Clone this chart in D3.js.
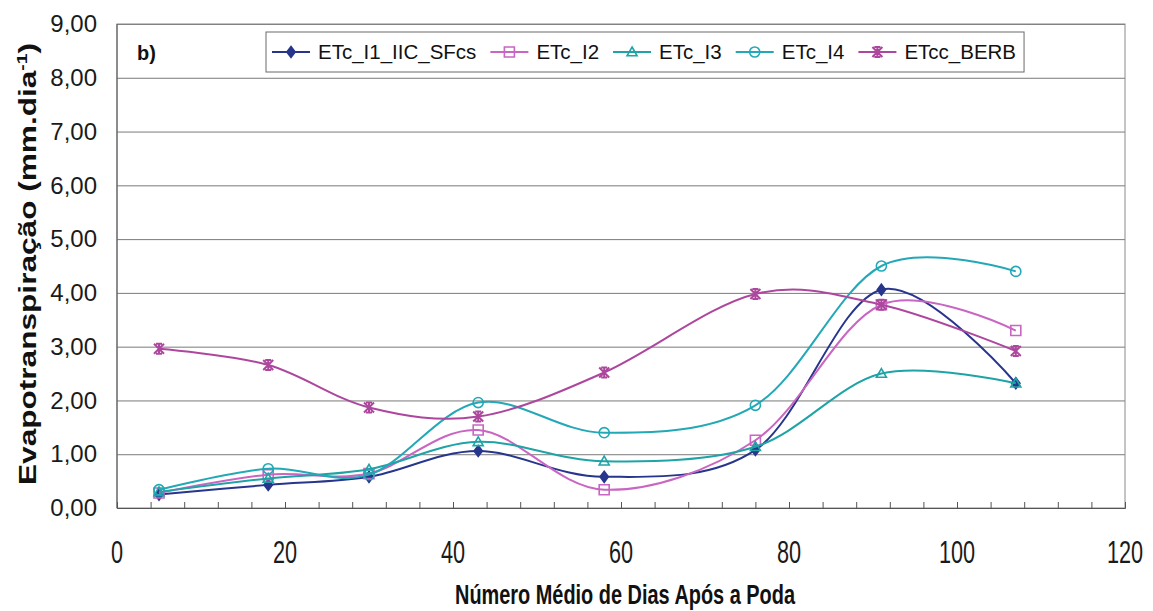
<!DOCTYPE html>
<html>
<head>
<meta charset="utf-8">
<script src="https://cdn.jsdelivr.net/npm/d3@7"></script>
<style>
  body { margin: 0; background: #fff; }
  svg { display: block; }
</style>
</head>
<body>
<div id="chart"></div>
<script>
// Data
const days = [5, 18, 30, 43, 58, 76, 91, 107];
const etcI1 = [0.25, 0.43, 0.58, 1.06, 0.58, 1.08, 4.06, 2.32];
const etcI2 = [0.28, 0.62, 0.64, 1.45, 0.34, 1.26, 3.78, 3.30];
const etcI3 = [0.30, 0.55, 0.72, 1.23, 0.87, 1.14, 2.50, 2.32];
const etcI4 = [0.34, 0.73, 0.62, 1.96, 1.40, 1.91, 4.50, 4.40];
const etccBerb = [2.96, 2.66, 1.87, 1.70, 2.52, 3.98, 3.78, 2.92];

const seriesNames = ['ETc_I1_IIC_SFcs', 'ETc_I2', 'ETc_I3', 'ETc_I4', 'ETcc_BERB'];
const seriesValues = [etcI1, etcI2, etcI3, etcI4, etccBerb];
const seriesColors = ['#27358c', '#c965c2', '#1ea3a6', '#22a8b6', '#ad479e'];
const seriesMarkers = ['diamond', 'square', 'triangle', 'circle', 'star'];

const xTicks = [0, 20, 40, 60, 80, 100, 120];
const xMinorTicks = d3.range(0, 121, 4);
const yTicks = d3.range(0, 10);

const W = 1153, H = 611;
const margin = { top: 24, right: 28, bottom: 103, left: 117 };
const width = W - margin.left - margin.right;
const height = H - margin.top - margin.bottom;
const FONT = 'Liberation Sans, Arial, Helvetica, sans-serif';

const svg = d3.select('#chart').append('svg')
    .attr('width', W)
    .attr('height', H);

const g = svg.append('g')
    .attr('transform', `translate(${margin.left},${margin.top})`);

const x = d3.scaleLinear().domain([0, 120]).range([0, width]);
const y = d3.scaleLinear().domain([0, 9]).range([height, 0]);
const fmt = v => d3.format('.2f')(v).replace('.', ',');

// gridlines + y labels
const yAxis = g.append('g')
    .call(d3.axisLeft(y).tickValues(yTicks).tickSize(-width).tickPadding(20).tickFormat(fmt));
yAxis.select('.domain').remove();
yAxis.selectAll('.tick line').attr('stroke', '#7a7a7a').attr('stroke-width', 1);
yAxis.selectAll('.tick text')
    .attr('fill', '#1a1a1a')
    .style('font-family', FONT)
    .style('font-size', '24px');

// plot frame
g.append('rect')
    .attr('width', width)
    .attr('height', height)
    .attr('fill', 'none')
    .attr('stroke', '#8a8a8a');
g.append('line')
    .attr('x1', 0).attr('x2', 0).attr('y1', 0).attr('y2', height)
    .attr('stroke', '#555');

// x axis: inner minor ticks
const xAxis = g.append('g')
    .attr('transform', `translate(0,${height})`)
    .call(d3.axisBottom(x).tickValues(xMinorTicks).tickSize(-6).tickFormat(''));
xAxis.select('.domain').attr('stroke', '#555');
xAxis.selectAll('.tick line').attr('stroke', '#555');

// x labels
g.append('g').selectAll('text')
    .data(xTicks)
    .join('text')
    .attr('transform', d => `translate(${x(d)},${height + 55}) scale(0.7,1)`)
    .attr('text-anchor', 'middle')
    .attr('fill', '#1a1a1a')
    .style('font-family', FONT)
    .style('font-size', '31px')
    .text(d => d);

// lines
const line = d3.line()
    .x(d => x(d[0]))
    .y(d => y(d[1]))
    .curve(d3.curveCardinal.tension(0));

function markerPath(type, s) {
    const h = s / 2;
    if (type === 'star') {
        return `M${-h},${-h}L${h},${h}M${-h},${h}L${h},${-h}M0,${-h}L0,${h}` +
               `M${-h * 0.6},${-h}L${h * 0.6},${-h}M${-h * 0.6},${h}L${h * 0.6},${h}`;
    }
    if (type === 'diamond') return `M0,${-h}L${h * 0.75},0L0,${h}L${-h * 0.75},0Z`;
    if (type === 'square') return `M${-h},${-h}H${h}V${h}H${-h}Z`;
    if (type === 'triangle') return `M0,${-h}L${h},${h * 0.75}L${-h},${h * 0.75}Z`;
    return d3.symbol(d3.symbolCircle, s * s * 0.8)();
}

function drawMarker(sel, type, color) {
    sel.append('path')
        .attr('d', markerPath(type, type === 'diamond' ? 11 : 10))
        .attr('fill', type === 'diamond' ? color : 'none')
        .attr('stroke', color)
        .attr('stroke-width', type === 'star' ? 2 : 1.6);
}

seriesValues.forEach((vals, i) => {
    const pts = days.map((d, k) => [d, vals[k]]);
    g.append('path')
        .datum(pts)
        .attr('fill', 'none')
        .attr('stroke', seriesColors[i])
        .attr('stroke-width', 2)
        .attr('d', line);
    pts.forEach(p => {
        const m = g.append('g').attr('transform', `translate(${x(p[0])},${y(p[1])})`);
        drawMarker(m, seriesMarkers[i], seriesColors[i]);
    });
});

// panel label
g.append('text')
    .attr('x', 20)
    .attr('y', 36)
    .attr('fill', '#111')
    .style('font-family', FONT)
    .style('font-size', '20px')
    .style('font-weight', 'bold')
    .text('b)');

// legend
const legend = svg.append('g').attr('transform', 'translate(266,32)');
const legendBox = legend.append('rect')
    .attr('height', 40)
    .attr('fill', '#fff')
    .attr('stroke', '#6a6a6a');
let lx = 6;
seriesNames.forEach((name, i) => {
    const item = legend.append('g').attr('transform', `translate(${lx},20)`);
    item.append('line')
        .attr('x1', 0).attr('x2', 38)
        .attr('stroke', seriesColors[i])
        .attr('stroke-width', 2);
    const m = item.append('g').attr('transform', 'translate(19,0)');
    drawMarker(m, seriesMarkers[i], seriesColors[i]);
    const t = item.append('text')
        .attr('x', 46)
        .attr('y', 7)
        .attr('fill', '#111')
        .style('font-family', FONT)
        .style('font-size', '20.5px')
        .text(name);
    lx += 46 + t.node().getComputedTextLength() + 14;
});
legendBox.attr('width', lx - 6);

// axis titles
svg.append('text')
    .attr('transform', `translate(36,${margin.top + height / 2 - 2}) rotate(-90)`)
    .attr('text-anchor', 'middle')
    .attr('textLength', 442)
    .attr('lengthAdjust', 'spacingAndGlyphs')
    .attr('fill', '#111')
    .style('font-family', FONT)
    .style('font-size', '23px')
    .style('font-weight', 'bold')
    .call(t => {
        t.append('tspan').text('Evapotranspiração (mm.dia');
        t.append('tspan').attr('dy', -9).style('font-size', '14px').text('-1');
        t.append('tspan').attr('dy', 9).text(')');
    });

svg.append('text')
    .attr('x', 625)
    .attr('y', 604)
    .attr('text-anchor', 'middle')
    .attr('textLength', 340)
    .attr('lengthAdjust', 'spacingAndGlyphs')
    .attr('fill', '#111')
    .style('font-family', FONT)
    .style('font-size', '27px')
    .style('font-weight', 'bold')
    .text('Número Médio de Dias Após a Poda');
</script>
</body>
</html>
